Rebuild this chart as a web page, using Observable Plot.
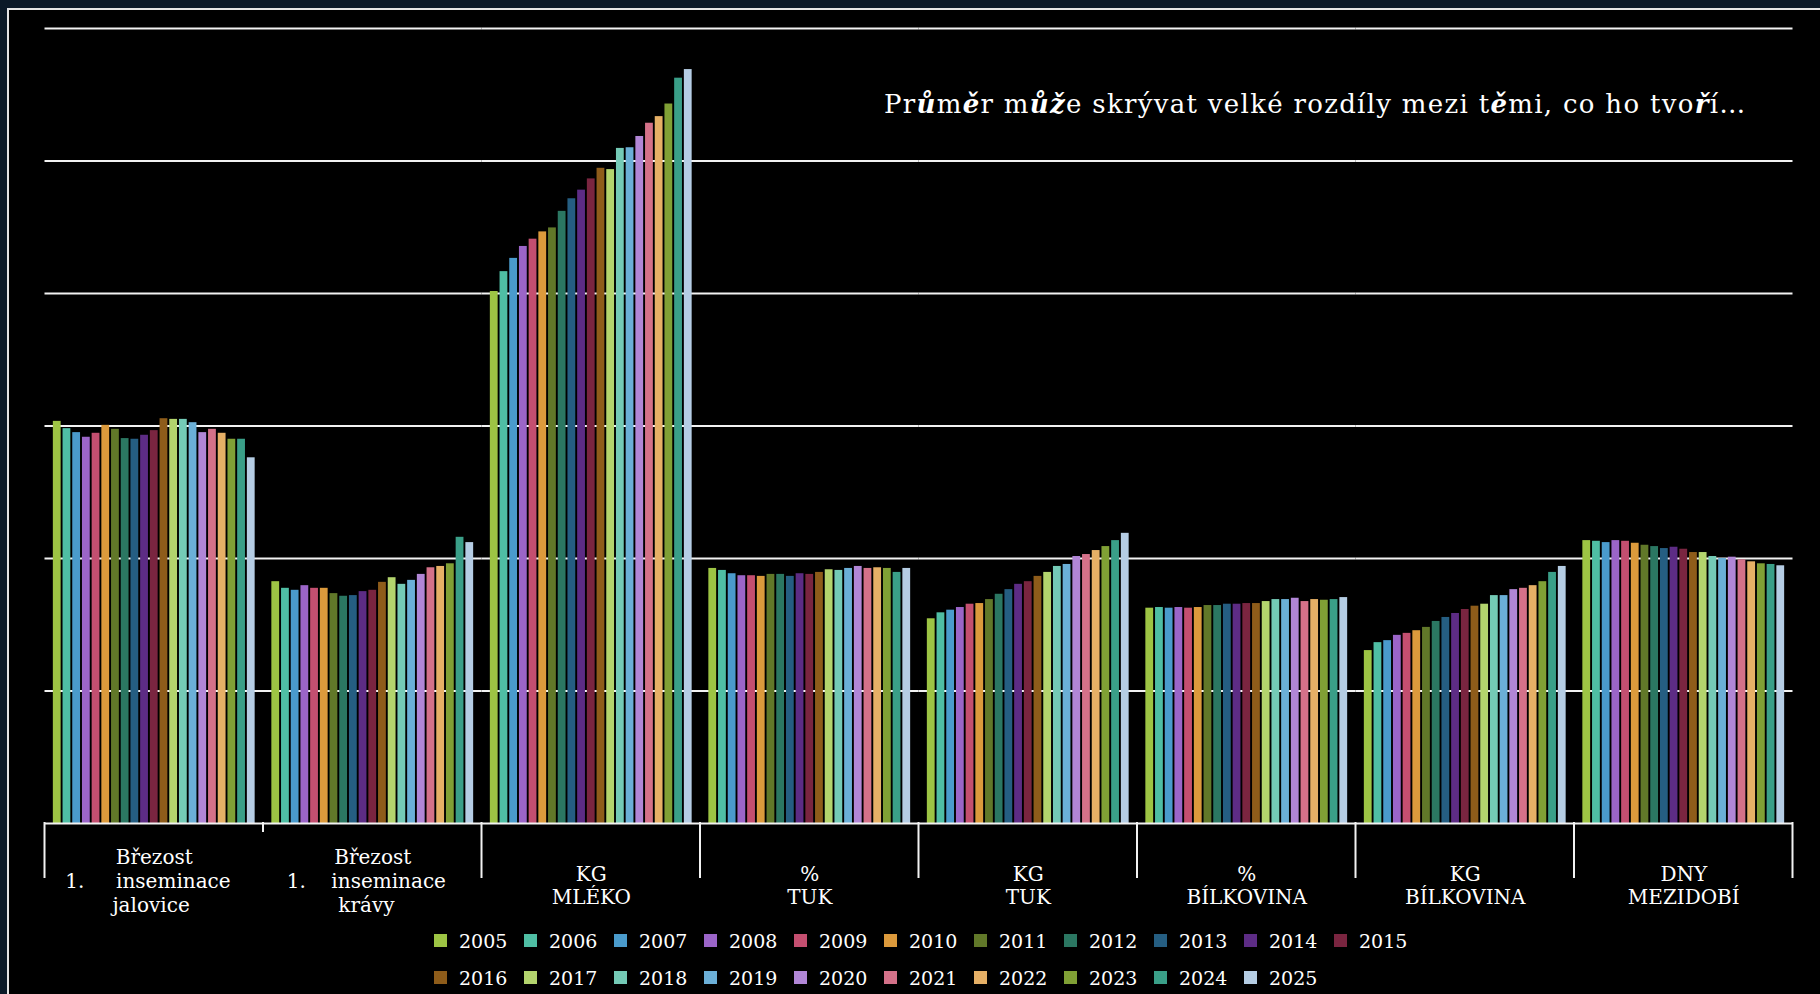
<!DOCTYPE html>
<html>
<head>
<meta charset="utf-8">
<script src="https://cdn.jsdelivr.net/npm/d3@7"></script>
<script src="https://cdn.jsdelivr.net/npm/@observablehq/plot@0.6"></script>
<style>
  html, body { margin: 0; padding: 0; }
  body { width: 1820px; height: 994px; overflow: hidden; background: #0b1927; position: relative; font-family: "DejaVu Serif", serif; }
  #panel { position: absolute; left: 7px; top: 8px; width: 1813px; height: 986px; background: #000; border-left: 2px solid #e4e4e4; border-top: 2px solid #e4e4e4; }
  #chart { position: absolute; left: 0; top: 0; }
  #title { position: absolute; left: 884px; top: 89px; color: #fff; font-size: 26px; white-space: nowrap; letter-spacing: 1.3px; }
  #title b { font-weight: bold; font-style: italic; }
  #legend { position: absolute; left: 434px; top: 922px; color: #fff; font-size: 19px; }
  .row { display: flex; height: 37px; align-items: center; }
  .item { width: 90px; display: flex; align-items: center; flex: none; }
  .sw { width: 13px; height: 13px; margin-right: 12px; flex: none; }
</style>
</head>
<body>
<div id="panel"></div>
<div id="chart"></div>
<div id="title">Pr<b>ů</b>m<b>ě</b>r m<b>ůž</b>e skrývat velké rozdíly mezi t<b>ě</b>mi, co ho tvo<b>ř</b>í…</div>
<div id="legend"></div>
<script>
// ---- data ----
const years = ["2005","2006","2007","2008","2009","2010","2011","2012","2013","2014","2015","2016","2017","2018","2019","2020","2021","2022","2023","2024","2025"];
const categories = ["brezostJalovice","brezostKravy","kgMleko","procTuk","kgTuk","procBilkovina","kgBilkovina","dnyMezidobi"];
const categoryLabels = [
  "Březost\n1.\u00a0\u00a0\u00a0\u00a0\u00a0inseminace\u00a0\u00a0\njalovice\u00a0",
  "Březost\n1.\u00a0\u00a0\u00a0\u00a0inseminace\u00a0\u00a0\nkrávy\u00a0\u00a0",
  "KG\nMLÉKO",
  "%\nTUK",
  "KG\nTUK",
  "%\nBÍLKOVINA",
  "KG\nBÍLKOVINA",
  "DNY\nMEZIDOBÍ"
];
const brezostJalovice = [60.7,59.6,59.0,58.3,58.9,60.1,59.5,58.1,58.0,58.6,59.3,61.1,61.0,61.0,60.5,59.0,59.5,58.9,58.0,58.0,55.2];
const brezostKravy    = [36.5,35.5,35.2,35.9,35.5,35.5,34.7,34.3,34.4,35.0,35.2,36.4,37.1,36.1,36.7,37.6,38.6,38.8,39.2,43.2,42.4];
const kgMleko         = [80.3,83.3,85.3,87.1,88.2,89.3,89.9,92.4,94.3,95.6,97.3,98.9,98.7,101.9,102.0,103.7,105.7,106.7,108.6,112.5,113.8];
const procTuk         = [38.5,38.2,37.7,37.4,37.4,37.3,37.6,37.6,37.3,37.7,37.6,37.9,38.3,38.2,38.5,38.8,38.5,38.6,38.5,37.9,38.5];
const kgTuk           = [30.9,31.8,32.2,32.6,33.1,33.2,33.8,34.6,35.3,36.1,36.5,37.3,37.9,38.8,39.1,40.3,40.6,41.2,41.8,42.7,43.8];
const procBilkovina   = [32.5,32.6,32.5,32.6,32.5,32.6,32.9,32.9,33.1,33.1,33.2,33.2,33.5,33.8,33.8,34.0,33.5,33.8,33.7,33.8,34.1];
const kgBilkovina     = [26.1,27.3,27.6,28.4,28.7,29.1,29.6,30.5,31.1,31.7,32.3,32.8,33.1,34.4,34.4,35.3,35.5,35.9,36.5,37.9,38.8];
const dnyMezidobi     = [42.7,42.6,42.4,42.7,42.6,42.3,42.0,41.8,41.5,41.7,41.4,40.9,40.9,40.3,40.0,40.2,39.8,39.5,39.2,39.1,38.9];
const yearColors = ["#9dc444","#4fbea4","#4a9bcc","#9b65c8","#c44f70","#dc9a3c","#617829","#2b7762","#255e82","#5d2c85","#7a2540","#8e5c1a","#b3d46d","#74cab6","#6bafd7","#b186d6","#d47189","#e6b066","#80a035","#3a9f88","#b5cde4"];
const gridTicks = [20,40,60,80,100,120];

const series = {brezostJalovice, brezostKravy, kgMleko, procTuk, kgTuk, procBilkovina, kgBilkovina, dnyMezidobi};
const table = categories.flatMap(c => years.map((y, i) => ({cat: c, year: y, value: series[c][i]})));
const labelTable = categories.map((c, i) => ({cat: c, label: categoryLabels[i], lines: categoryLabels[i].split("\n").length}));

const plot = Plot.plot({
  width: 1820,
  height: 920,
  marginLeft: 44.5,
  marginRight: 27.5,
  marginTop: 28,
  marginBottom: 97,
  style: {background: "transparent", color: "#fff", fontFamily: "DejaVu Serif", overflow: "visible"},
  fx: {domain: categories, padding: 0, round: false, axis: null},
  x: {domain: years, paddingInner: 0.196, paddingOuter: 0.86, round: false, axis: null},
  y: {domain: [0, 120], axis: null},
  color: {type: "ordinal", domain: years, range: yearColors},
  marks: [
    Plot.ruleY(gridTicks, {stroke: "#f2f2f2", strokeWidth: 2}),
    Plot.barY(table, {fx: "cat", x: "year", y: "value", fill: "year"}),
    Plot.ruleY([0], {stroke: "#f2f2f2", strokeWidth: 2}),
    Plot.text(labelTable.filter(d => d.lines === 3), {fx: "cat", text: "label", frameAnchor: "bottom", lineAnchor: "middle", dy: 57, fontSize: 20, lineHeight: 1.2, fill: "#fff"}),
    Plot.text(labelTable.filter(d => d.lines === 2), {fx: "cat", text: "label", frameAnchor: "bottom", lineAnchor: "middle", dy: 62, fontSize: 20, lineHeight: 1.15, fill: "#fff"})
  ]
});
document.getElementById("chart").appendChild(plot);

// category boundary ticks under the axis, from the fx and y scales
const fxs = plot.scale("fx");
const ys = plot.scale("y");
const y0 = ys.apply(0);
const svg = d3.select(plot);
const bounds = categories.map(c => fxs.apply(c)).concat([fxs.apply(categories[categories.length - 1]) + fxs.bandwidth]);
svg.append("g").selectAll("line").data(bounds).join("line")
  .attr("x1", d => d).attr("x2", d => d)
  .attr("y1", y0 - 1)
  .attr("y2", (d, i) => i === 1 ? y0 + 9 : y0 + 55)
  .attr("stroke", "#f2f2f2").attr("stroke-width", 2);

// legend
const legend = d3.select("#legend");
const rows = [years.slice(0, 11), years.slice(11)];
rows.forEach(r => {
  const row = legend.append("div").attr("class", "row");
  r.forEach(y => {
    const it = row.append("div").attr("class", "item");
    it.append("div").attr("class", "sw").style("background", yearColors[years.indexOf(y)]);
    it.append("span").text(y);
  });
});
</script>
</body>
</html>
